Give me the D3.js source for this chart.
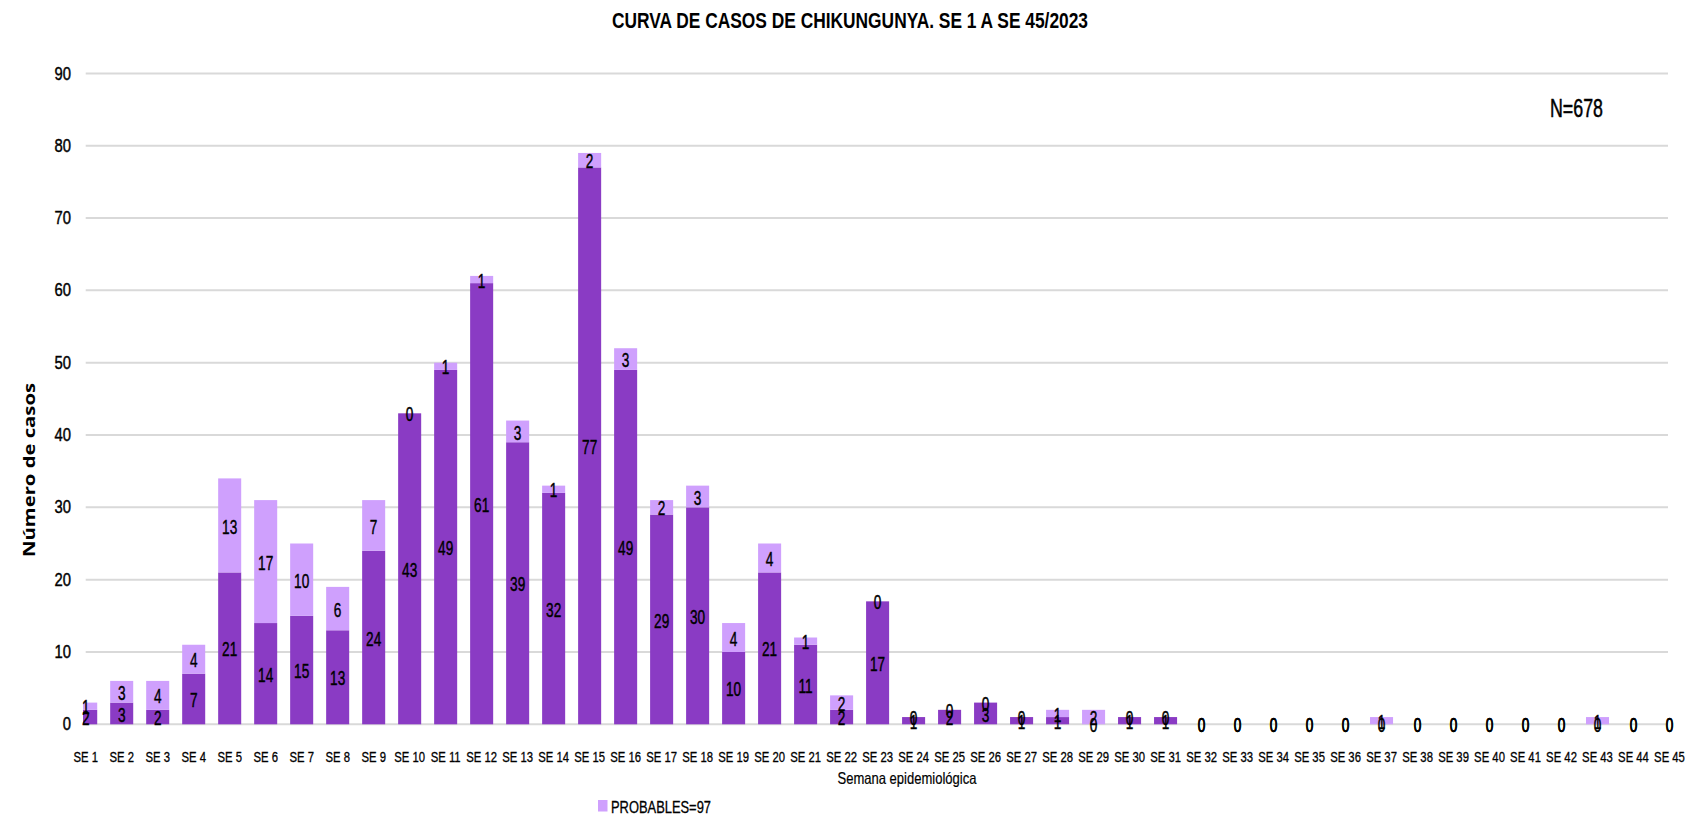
<!DOCTYPE html>
<html>
<head>
<meta charset="utf-8">
<script src="https://cdn.jsdelivr.net/npm/d3@7"></script>
<style>
html,body{margin:0;padding:0;background:#fff;}
svg{display:block;}
</style>
</head>
<body>
<svg id="chart" width="1691" height="817"></svg>
<script>
const categories = ["SE 1","SE 2","SE 3","SE 4","SE 5","SE 6","SE 7","SE 8","SE 9","SE 10","SE 11","SE 12","SE 13","SE 14","SE 15","SE 16","SE 17","SE 18","SE 19","SE 20","SE 21","SE 22","SE 23","SE 24","SE 25","SE 26","SE 27","SE 28","SE 29","SE 30","SE 31","SE 32","SE 33","SE 34","SE 35","SE 36","SE 37","SE 38","SE 39","SE 40","SE 41","SE 42","SE 43","SE 44","SE 45"];
const confirmados = [2,3,2,7,21,14,15,13,24,43,49,61,39,32,77,49,29,30,10,21,11,2,17,1,2,3,1,1,0,1,1,0,0,0,0,0,0,0,0,0,0,0,0,0,0];
const probables  = [1,3,4,4,13,17,10,6,7,0,1,1,3,1,2,3,2,3,4,4,1,2,0,0,0,0,0,1,2,0,0,0,0,0,0,0,1,0,0,0,0,0,1,0,0];
const yTicks = [0,10,20,30,40,50,60,70,80,90];
const titleText = "CURVA DE CASOS DE CHIKUNGUNYA. SE 1 A SE 45/2023";
const xTitle = "Semana epidemiológica";
const yTitle = "Número de casos";
const legendLabel = "PROBABLES=97";
const totalLabel = "N=678";

const colDark = "#8a3bc4";
const colLight = "#cfa0fd";

const svg = d3.select("#chart");
const FONT = "'Liberation Sans Narrow','Liberation Sans','Open Sans',sans-serif";

const x = d3.scalePoint().domain(categories).range([85.7, 1669.5]);
const y = d3.scaleLinear().domain([0, 90]).range([724.3, 73.4]);
const bw = x.step() * 0.64;

svg.append("defs").append("clipPath").attr("id","plotclip")
  .append("rect").attr("x",83).attr("y",0).attr("width",1691-83).attr("height",817);

svg.append("g").selectAll("line").data(yTicks).join("line")
  .attr("x1", 85.7).attr("x2", 1668)
  .attr("y1", d => y(d)).attr("y2", d => y(d))
  .attr("stroke", "#d9d9d9").attr("stroke-width", 2);

function condText(g, txt, px, py, size, sx, anchor, sw){
  return g.append("text")
    .attr("transform", `translate(${px},${py}) scale(${sx},1)`)
    .attr("text-anchor", anchor || "middle")
    .attr("dominant-baseline", "central")
    .attr("font-family", FONT)
    .attr("font-size", size)
    .attr("fill", "#000")
    .attr("stroke", "#000").attr("stroke-width", sw || 0)
    .text(txt);
}
const gy = svg.append("g");
yTicks.forEach(t => condText(gy, t, 71, y(t), 19, 0.78, "end", 0.45));

const stack = categories.map((c,i) => ({c, d: confirmados[i], p: probables[i]}));
const gb = svg.append("g").attr("clip-path","url(#plotclip)");
gb.selectAll("rect.d").data(stack).join("rect").attr("class","d")
  .attr("x", d => x(d.c) - bw/2).attr("width", bw)
  .attr("y", d => y(d.d)).attr("height", d => y(0) - y(d.d))
  .attr("fill", colDark);
gb.selectAll("rect.p").data(stack).join("rect").attr("class","p")
  .attr("x", d => x(d.c) - bw/2).attr("width", bw)
  .attr("y", d => y(d.d + d.p)).attr("height", d => y(d.d) - y(d.d + d.p))
  .attr("fill", colLight);

const gl = svg.append("g");
stack.forEach(d => {
  condText(gl, d.d, x(d.c), y(d.d/2) + 1, 21, 0.65, "middle", 0.45);
  condText(gl, d.p, x(d.c), y(d.d + d.p/2) + 1, 21, 0.65, "middle", 0.45);
});

const gx = svg.append("g");
categories.forEach(c => condText(gx, c, x(c), 757, 14.5, 0.78, "middle", 0.3));

svg.append("text").attr("x", 850).attr("y", 28)
  .attr("text-anchor","middle").attr("font-family",FONT)
  .attr("font-size",22).attr("font-weight","bold")
  .attr("textLength",476).attr("lengthAdjust","spacingAndGlyphs")
  .text(titleText);

svg.append("text").attr("x", 907).attr("y", 784)
  .attr("text-anchor","middle").attr("font-family",FONT)
  .attr("font-size",16.5).attr("stroke","#000").attr("stroke-width",0.2)
  .attr("textLength",139).attr("lengthAdjust","spacingAndGlyphs")
  .text(xTitle);

svg.append("text").attr("transform","translate(35,470) rotate(-90)")
  .attr("text-anchor","middle").attr("font-family","'Open Sans',sans-serif")
  .attr("font-size",16).attr("font-weight","bold")
  .attr("textLength",174).attr("lengthAdjust","spacingAndGlyphs")
  .text(yTitle);

svg.append("text").attr("x", 1550).attr("y", 117)
  .attr("font-family",FONT).attr("font-size",25)
  .attr("stroke","#000").attr("stroke-width",0.5)
  .attr("textLength",53).attr("lengthAdjust","spacingAndGlyphs")
  .text(totalLabel);

svg.append("rect").attr("x",598).attr("y",800).attr("width",9.5).attr("height",11.5).attr("fill",colLight);
svg.append("text").attr("x", 611).attr("y", 813)
  .attr("font-family",FONT).attr("font-size",17)
  .attr("stroke","#000").attr("stroke-width",0.3)
  .attr("textLength",100).attr("lengthAdjust","spacingAndGlyphs")
  .text(legendLabel);
</script>
</body>
</html>
